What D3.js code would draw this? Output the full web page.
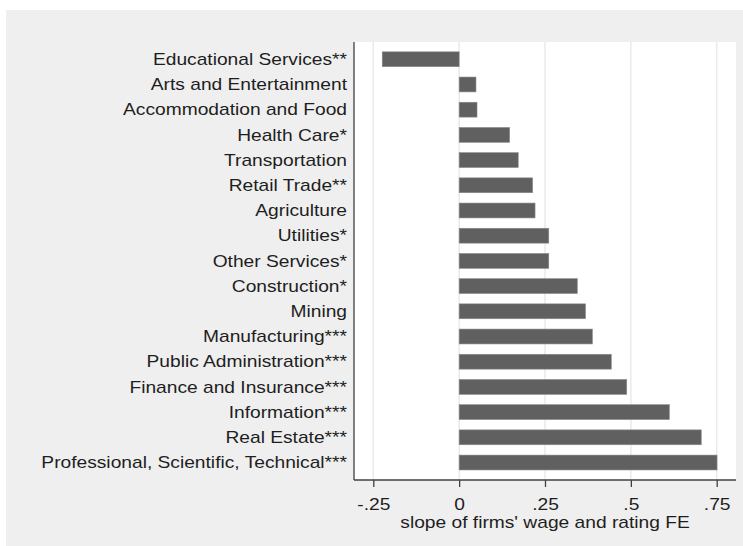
<!DOCTYPE html>
<html>
<head>
<meta charset="utf-8">
<script src="https://cdn.jsdelivr.net/npm/d3@7"></script>
<style>
  html, body { margin: 0; padding: 0; background: #ffffff; }
  svg { display: block; font-family: "Liberation Sans", Arial, sans-serif; }
</style>
</head>
<body>
<svg id="chart" width="743" height="546"></svg>
<script>
// Industry categories, top to bottom
const industries = [
  "Educational Services**",
  "Arts and Entertainment",
  "Accommodation and Food",
  "Health Care*",
  "Transportation",
  "Retail Trade**",
  "Agriculture",
  "Utilities*",
  "Other Services*",
  "Construction*",
  "Mining",
  "Manufacturing***",
  "Public Administration***",
  "Finance and Insurance***",
  "Information***",
  "Real Estate***",
  "Professional, Scientific, Technical***"
];

// Slope of firms' wage and rating fixed effects, by industry
const slopes = [
  -0.224, 0.049, 0.052, 0.147, 0.172, 0.214, 0.221, 0.261, 0.261,
  0.344, 0.368, 0.388, 0.443, 0.488, 0.612, 0.705, 0.751
];

const xTickValues = [-0.25, 0, 0.25, 0.5, 0.75];
const xTickLabels = ["-.25", "0", ".25", ".5", ".75"];
const xTitle = "slope of firms' wage and rating FE";

const svg = d3.select("#chart");
const W = 743, H = 546;
const fontSize = 16;
const stretch = 1.2;   // text is set slightly wide
const textColor = "#1e1e1e";

// Outer panel
svg.append("rect").attr("x", 6).attr("y", 10).attr("width", W - 6).attr("height", H - 10)
  .attr("fill", "#efefef");

const plot = { left: 354, right: 736, top: 42, bottom: 480 };

svg.append("rect")
  .attr("x", plot.left).attr("y", plot.top)
  .attr("width", plot.right - plot.left).attr("height", plot.bottom - plot.top)
  .attr("fill", "#ffffff");

const x = d3.scaleLinear().domain([-0.25, 0.75]).range([373.3, 716.7]);
const y = d3.scaleBand().domain(industries).range([46.8, 475.0]).paddingInner(0.41).paddingOuter(0.2);

// Vertical grid lines
svg.append("g").selectAll("line").data(xTickValues).join("line")
  .attr("x1", d => x(d)).attr("x2", d => x(d))
  .attr("y1", plot.top).attr("y2", plot.bottom)
  .attr("stroke", "#eaeaea").attr("stroke-width", 1.5);

// Bars
svg.append("g").selectAll("rect").data(slopes).join("rect")
  .attr("x", d => Math.min(x(0), x(d)))
  .attr("width", d => Math.abs(x(d) - x(0)))
  .attr("y", (d, i) => y(industries[i]))
  .attr("height", y.bandwidth())
  .attr("fill", "#606060")
  .attr("stroke", "#8a8a8a").attr("stroke-width", 0.6);

// Category labels
svg.append("g").selectAll("text").data(industries).join("text")
  .attr("transform", d => `translate(347,${y(d) + y.bandwidth() / 2}) scale(${stretch},1)`)
  .attr("dy", "0.36em")
  .attr("text-anchor", "end")
  .attr("font-size", fontSize)
  .attr("fill", textColor)
  .text(d => d);

// Bottom axis
const xAxis = d3.axisBottom(x).tickValues(xTickValues)
  .tickFormat((d, i) => xTickLabels[i]).tickSize(7).tickSizeOuter(0);
const gx = svg.append("g").attr("transform", `translate(0,${plot.bottom})`).call(xAxis);
gx.select(".domain").remove();
gx.selectAll(".tick line").attr("stroke", "#404040").attr("stroke-width", 1.3);
gx.selectAll(".tick text")
  .attr("font-size", fontSize).attr("fill", textColor)
  .attr("font-family", "Liberation Sans, Arial, sans-serif")
  .attr("dy", "0").attr("y", 0)
  .attr("transform", `translate(0,29.5) scale(${stretch},1)`);

svg.append("line").attr("x1", plot.left).attr("x2", plot.right)
  .attr("y1", plot.bottom).attr("y2", plot.bottom)
  .attr("stroke", "#404040").attr("stroke-width", 1.3);

// Left axis line
svg.append("line").attr("x1", plot.left).attr("x2", plot.left)
  .attr("y1", plot.top).attr("y2", plot.bottom)
  .attr("stroke", "#404040").attr("stroke-width", 1.3);

// Axis title
svg.append("text")
  .attr("transform", `translate(${(plot.left + plot.right) / 2},527.5) scale(${stretch},1)`)
  .attr("text-anchor", "middle").attr("font-size", fontSize).attr("fill", textColor)
  .text(xTitle);
</script>
</body>
</html>
